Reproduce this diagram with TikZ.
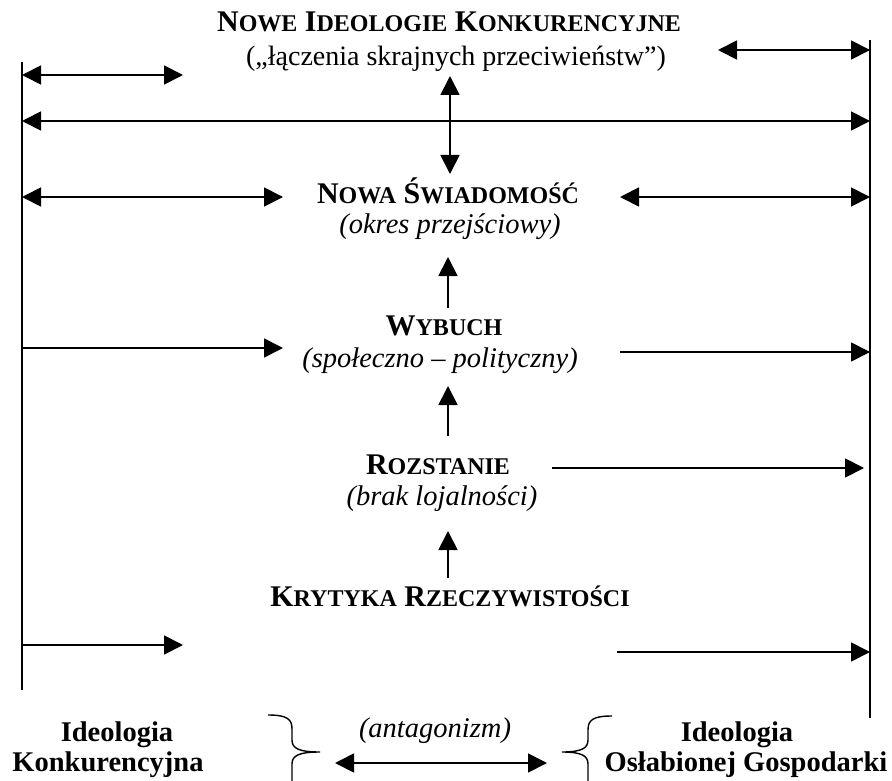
\documentclass[tikz,border=0pt]{standalone}
\usepackage{fontspec}
\setmainfont{Liberation Serif}
\usetikzlibrary{arrows.meta}
\newcommand\SCp[1]{{\fontsize{24}{26}\selectfont #1}}
\tikzset{
  head/.style={font=\fontsize{30}{32}\selectfont\bfseries, inner sep=0pt},
  sub/.style={font=\fontsize{28}{30}\selectfont, inner sep=0pt},
  subit/.style={font=\fontsize{28.5}{30}\selectfont\itshape, inner sep=0pt},
  bot/.style={font=\fontsize{28.5}{30}\selectfont\bfseries, inner sep=0pt},
  arr/.style={line width=1.8pt, -{Triangle[length=19pt,width=19pt]}},
  darr/.style={line width=1.8pt, {Triangle[length=19pt,width=19pt]}-{Triangle[length=19pt,width=19pt]}},
  vline/.style={line width=1.4pt},
  brc/.style={line width=1.4pt},
}
\begin{document}
\begin{tikzpicture}[x=1pt,y=-1pt]
\useasboundingbox (0,0) rectangle (892,781);
% texts
\node[head] (t1) at (449,22) {N\SCp{OWE} I\SCp{DEOLOGIE} K\SCp{ONKURENCYJNE}};
\node[sub] (t2) at (456,59) {(„łączenia skrajnych przeciwieństw”)};
\node[head] (ns) at (448,191) {N\SCp{OWA} Ś\SCp{WIADOMOŚĆ}};
\node[subit] (ns2) at (450,227) {(okres przejściowy)};
\node[head] (wy) at (444,326) {W\SCp{YBUCH}};
\node[subit] (wy2) at (440,361) {(społeczno – polityczny)};
\node[head] (ro) at (438,465) {R\SCp{OZSTANIE}};
\node[subit] (ro2) at (442,499) {(brak lojalności)};
\node[head] (kr) at (450,596) {K\SCp{RYTYKA} R\SCp{ZECZYWISTOŚCI}};
\node[bot] (b1) at (117,735) {Ideologia};
\node[bot] (b2) at (108,765) {Konkurencyjna};
\node[subit] (b3) at (435,731) {(antagonizm)};
\node[bot] (b4) at (737,735) {Ideologia};
\node[bot] (b5) at (746,765) {Osłabionej Gospodarki};
% vertical frame lines
\coordinate (Ltop) at (22,62);
\coordinate (Lbot) at (22,690);
\coordinate (Rtop) at (870,40);
\coordinate (Rbot) at (870,718);
\draw[vline] (Ltop) -- (Lbot);
\draw[vline] (Rtop) -- (Rbot);
% horizontal arrows
\coordinate (a1s) at (22,75);  \coordinate (a1e) at (183,75);
\coordinate (a2s) at (718,50); \coordinate (a2e) at (870,50);
\coordinate (a3s) at (22,121); \coordinate (a3e) at (870,121);
\coordinate (a5s) at (22,197); \coordinate (a5e) at (283,197);
\coordinate (a6s) at (620,197);\coordinate (a6e) at (870,197);
\coordinate (a7s) at (22,348); \coordinate (a7e) at (283,348);
\coordinate (a8s) at (620,352);\coordinate (a8e) at (870,352);
\coordinate (a9s) at (552,468);\coordinate (a9e) at (864,468);
\coordinate (a10s) at (22,645);\coordinate (a10e) at (183,645);
\coordinate (a11s) at (617,652);\coordinate (a11e) at (870,652);
\draw[darr] (a1s) -- (a1e);
\draw[darr] (a2s) -- (a2e);
\draw[darr] (a3s) -- (a3e);
\draw[darr] (a5s) -- (a5e);
\draw[darr] (a6s) -- (a6e);
\draw[arr] (a7s) -- (a7e);
\draw[arr] (a8s) -- (a8e);
\draw[arr] (a9s) -- (a9e);
\draw[arr] (a10s) -- (a10e);
\draw[arr] (a11s) -- (a11e);
% vertical arrows
\coordinate (v1s) at (450,76);  \coordinate (v1e) at (450,174);
\draw[darr] (v1s) -- (v1e);
\coordinate (v2s) at (448,308); \coordinate (v2e) at (448,257);
\draw[arr] (v2s) -- (v2e);
\coordinate (v3s) at (448,436); \coordinate (v3e) at (448,386);
\draw[arr] (v3s) -- (v3e);
\coordinate (v4s) at (448,578); \coordinate (v4e) at (448,531);
\draw[arr] (v4s) -- (v4e);
% antagonism arrow
\coordinate (aas) at (335,763); \coordinate (aae) at (547,763);
\draw[darr] (aas) -- (aae);
% braces
\draw[brc] (268,715) .. controls (287,715) and (292,719) .. (292,729) -- (292,740)
  .. controls (292,748) and (298,752) .. (320,752)
  .. controls (298,752) and (292,756) .. (292,764) -- (292,781);
\draw[brc] (612,716) .. controls (593,716) and (588,720) .. (588,730) -- (588,740)
  .. controls (588,748) and (582,752) .. (562,752)
  .. controls (582,752) and (588,756) .. (588,764) -- (588,781);
\end{tikzpicture}
\end{document}
